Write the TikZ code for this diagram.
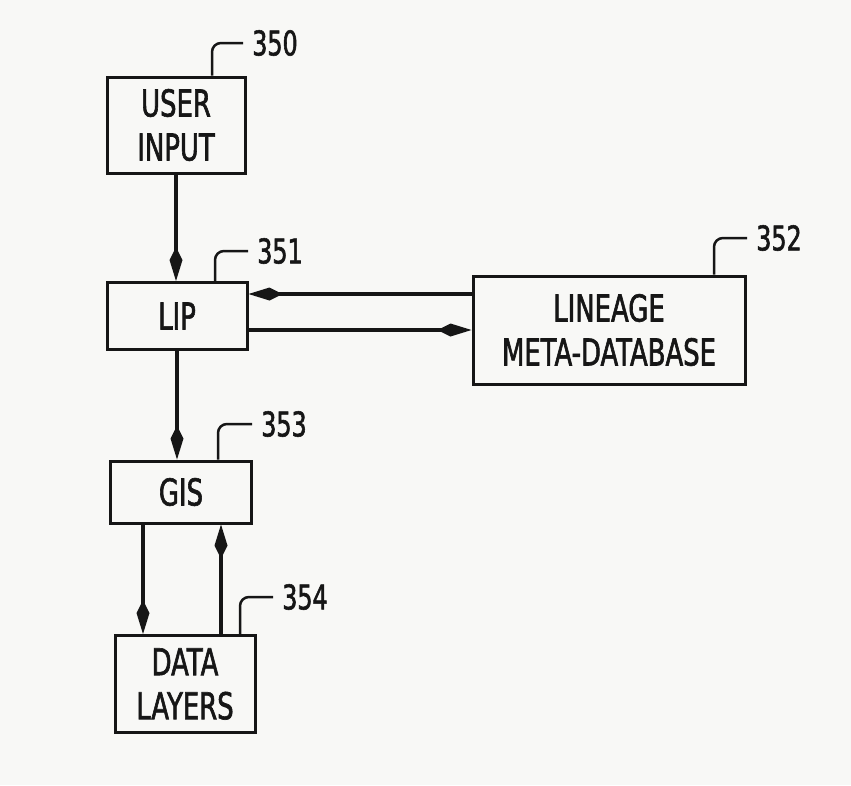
\documentclass[tikz,border=0pt]{standalone}
\usepackage{fontspec}
\usetikzlibrary{arrows.meta, positioning}
\usepackage{xcolor}
\newfontfamily\patfont{DejaVu Sans}[FakeStretch=0.7, FakeBold=1.6]
\definecolor{paperBg}{RGB}{248,248,246}
\definecolor{inkLine}{RGB}{22,22,22}

\begin{document}
\begin{tikzpicture}[
    x=1pt, y=-1pt,
    blk/.style={rectangle, draw=inkLine, line width=3pt, align=center, inner sep=0pt, text=inkLine, font=\patfont\fontsize{37}{44}\selectfont},
    refnum/.style={inner sep=0pt, text=inkLine, font=\patfont\fontsize{34}{34}\selectfont},
    flow/.style={draw=inkLine, line width=4.5pt, -{Kite[length=34pt,width=13pt,inset=13pt]}},
    lead/.style={draw=inkLine, line width=2.5pt, rounded corners=9pt}
]
\fill[paperBg] (0,0) rectangle (851,785);

\node[blk, minimum width=138pt, minimum height=96pt] (userin) at (176,125) {USER\\INPUT};
\node[blk, minimum width=140pt, minimum height=67pt] (lip) at (177,316) {LIP};
\node[blk, minimum width=272pt, minimum height=108pt] (lineage) at (609,330) {LINEAGE\\META-DATABASE};
\node[blk, minimum width=141pt, minimum height=62pt] (gis) at (181,492) {GIS};
\node[blk, minimum width=140pt, minimum height=97pt] (datal) at (185,684) {DATA\\LAYERS};

\node[refnum] (n350) at (275,43) {350};
\node[refnum] (n351) at (280,251) {351};
\node[refnum] (n352) at (779,238) {352};
\node[refnum] (n353) at (284,424) {353};
\node[refnum] (n354) at (305,597) {354};

\draw[lead] ([xshift=36pt]userin.north) |- ([xshift=-9pt]n350.west);
\draw[lead] ([xshift=38pt]lip.north) |- ([xshift=-9pt]n351.west);
\draw[lead] ([xshift=105pt]lineage.north) |- ([xshift=-9pt]n352.west);
\draw[lead] ([xshift=37pt]gis.north) |- ([xshift=-9pt]n353.west);
\draw[lead] ([xshift=55pt]datal.north) |- ([xshift=-9pt]n354.west);

\coordinate (fromdb) at ([yshift=36pt]lineage.west);
\coordinate (godown) at ([xshift=-38pt]gis.south);
\coordinate (goup) at ([xshift=40pt]gis.south);

\draw[flow] (userin) -- (userin |- lip.north);
\draw[flow] (lip) -- (lip |- gis.north);
\draw[flow] (fromdb) -- (lip.east |- fromdb);
\draw[flow] (lip.east |- lineage.west) -- (lineage.west);
\draw[flow] (godown) -- (godown |- datal.north);
\draw[flow] (goup |- datal.north) -- (goup);
\end{tikzpicture}
\end{document}
